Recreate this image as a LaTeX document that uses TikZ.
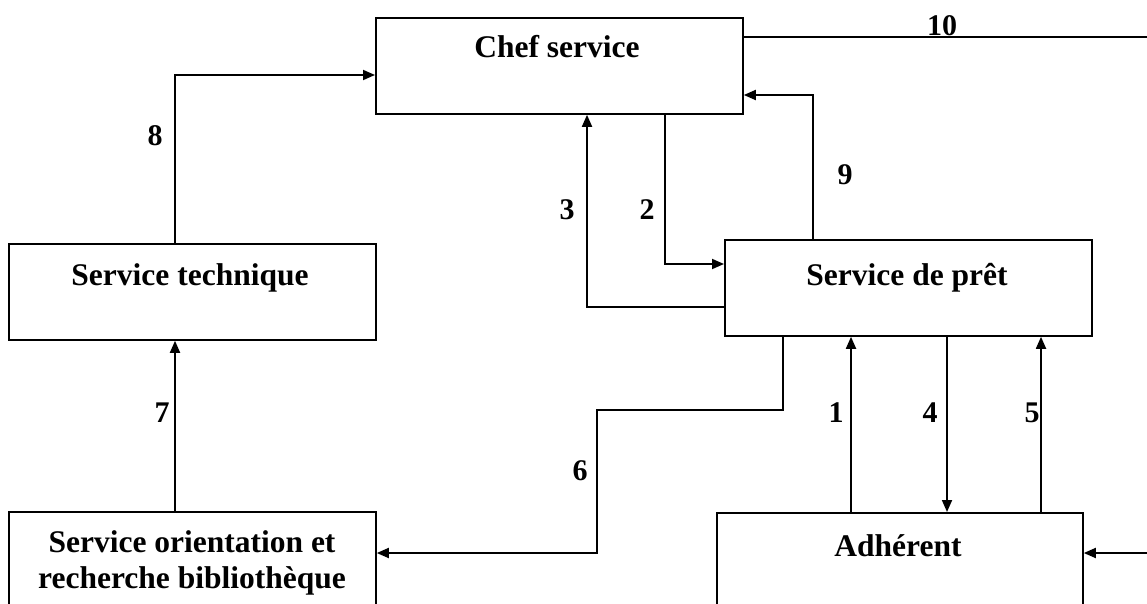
\documentclass[tikz,border=0pt]{standalone}
\usepackage{fontspec}
\setmainfont{Liberation Serif}
\usetikzlibrary{arrows.meta}
\begin{document}
\begin{tikzpicture}[x=1pt,y=-1pt,
  box/.style={draw,line width=1.8pt,inner sep=0pt,anchor=north west},
  title/.style={anchor=base,inner sep=0pt,font=\fontsize{31.5}{36}\selectfont\bfseries,align=center},
  num/.style={anchor=base,inner sep=0pt,font=\fontsize{30}{36}\selectfont\bfseries},
  link/.style={line width=1.8pt},
  flow/.style={link,-{Triangle[length=12pt,width=10pt]}}]
\useasboundingbox (0,0) rectangle (1147,604);
\clip (0,0) rectangle (1147,604);

% boxes
\node[box,minimum width=367pt,minimum height=96pt] (chef) at (375,17) {};
\node[box,minimum width=367pt,minimum height=96pt] (tech) at (8,243) {};
\node[box,minimum width=367pt,minimum height=96pt] (pret) at (724,239) {};
\node[box,minimum width=367pt,minimum height=140pt] (orient) at (8,511) {};
\node[box,minimum width=366pt,minimum height=140pt] (adh) at (716,512) {};

% box titles
\node[title] (tchef) at (557,58) {Chef service};
\node[title] (ttech) at (190,285) {Service technique};
\node[title] (tpret) at (907,285) {Service de prêt};
\node[title] (torient1) at (192,552) {Service orientation et};
\node[title] (torient2) at (192,588) {recherche bibliothèque};
\node[title] (tadh) at (898,556) {Adhérent};

% bend points
\coordinate (k8) at (175,75);
\coordinate (k3) at (587,307);
\coordinate (k2) at (665,264);
\coordinate (k9) at (813,95);
\coordinate (k10) at (1152,37);
\coordinate (k6a) at (783,410);
\coordinate (k6b) at (597,553);
\coordinate (kin) at (1152,553);
\coordinate (c1) at (851,420);
\coordinate (c4) at (947,420);
\coordinate (c5) at (1041,420);

% connectors
\draw[flow] (tech.north -| k8) -- (k8) -- (chef.west |- k8);
\draw[flow] (orient.north -| k8) -- (tech.south -| k8);
\draw[flow] (pret.west |- k3) -- (k3) -- (chef.south -| k3);
\draw[flow] (chef.south -| k2) -- (k2) -- (pret.west |- k2);
\draw[flow] (pret.north -| k9) -- (k9) -- (chef.east |- k9);
\draw[link] (chef.east |- k10) -- (k10);
\draw[flow] (pret.south -| k6a) -- (k6a) -| (k6b) -- (orient.east |- k6b);
\draw[flow] (adh.north -| c1) -- (pret.south -| c1);
\draw[flow] (pret.south -| c4) -- (adh.north -| c4);
\draw[flow] (adh.north -| c5) -- (pret.south -| c5);
\draw[flow] (kin) -- (adh.east |- kin);

% flow numbers
\node[num] (l1) at (836,422) {1};
\node[num] (l2) at (647,219) {2};
\node[num] (l3) at (567,219) {3};
\node[num] (l4) at (930,422) {4};
\node[num] (l5) at (1032,422) {5};
\node[num] (l6) at (580,480) {6};
\node[num] (l7) at (162,422) {7};
\node[num] (l8) at (155,146) {8};
\node[num] (l9) at (845,184) {9};
\node[num] (l10) at (942,36) {10};
\end{tikzpicture}
\end{document}
